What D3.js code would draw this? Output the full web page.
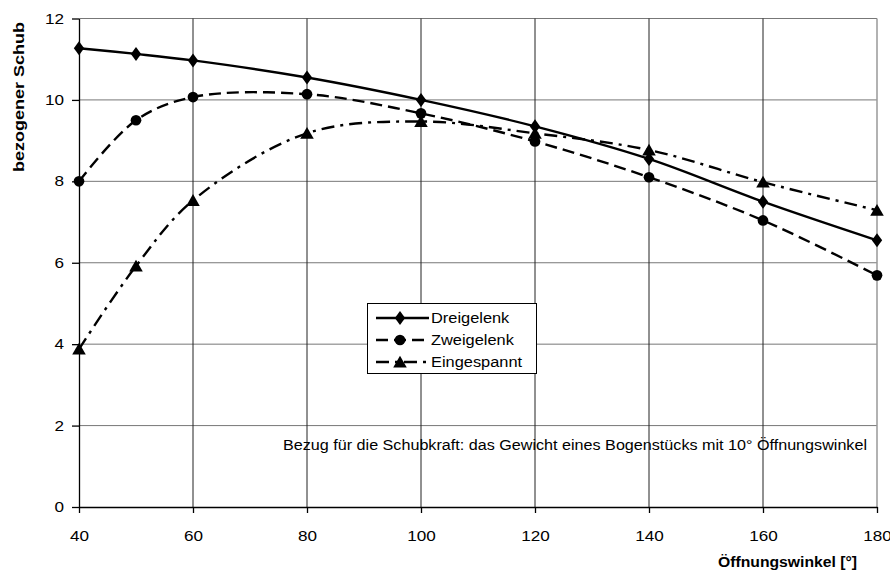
<!DOCTYPE html>
<html><head><meta charset="utf-8">
<script src="https://cdn.jsdelivr.net/npm/d3@7"></script>
<style>body{margin:0;background:#fff}text{font-family:"Liberation Sans",Arial,sans-serif}</style>
</head><body>
<svg id="c" width="890" height="580"></svg>
<script>
const angles = [40, 50, 60, 80, 100, 120, 140, 160, 180];
const dreigelenk = [11.27, 11.13, 10.97, 10.55, 10.0, 9.35, 8.55, 7.5, 6.55];
const zweigelenk = [8.0, 9.5, 10.07, 10.14, 9.67, 8.98, 8.1, 7.04, 5.69];
const eingespannt = [3.88, 5.92, 7.53, 9.18, 9.47, 9.18, 8.77, 7.98, 7.29];
const seriesNames = ["Dreigelenk", "Zweigelenk", "Eingespannt"];
const xTicks = [40, 60, 80, 100, 120, 140, 160, 180];
const yTicks = [0, 2, 4, 6, 8, 10, 12];
const yTitle = "bezogener Schub";
const xTitle = "Öffnungswinkel [°]";
const note = "Bezug für die Schubkraft: das Gewicht eines Bogenstücks mit 10° Öffnungswinkel";

const svg = d3.select("#c");
const x = d3.scaleLinear().domain([40, 180]).range([79, 877]);
const y = d3.scaleLinear().domain([0, 12]).range([507, 18.5]);

function stretch(sel, k) {
  sel.each(function () {
    const len = this.getComputedTextLength();
    d3.select(this).attr("textLength", len * k).attr("lengthAdjust", "spacingAndGlyphs");
  });
}

// gridlines
svg.append("g").selectAll("line").data(yTicks.filter(d => d > 0)).join("line")
  .attr("x1", x(40)).attr("x2", x(180)).attr("y1", d => y(d)).attr("y2", d => y(d))
  .attr("stroke", "#777").attr("stroke-width", 1);
svg.append("g").selectAll("line").data(xTicks.filter(d => d > 40 && d < 180)).join("line")
  .attr("x1", d => x(d)).attr("x2", d => x(d)).attr("y1", y(0)).attr("y2", y(12))
  .attr("stroke", "#222").attr("stroke-width", 1);
svg.append("line").attr("x1", x(180)).attr("x2", x(180)).attr("y1", y(0)).attr("y2", y(12))
  .attr("stroke", "#999").attr("stroke-width", 1.5);

// axes
const xAxis = svg.append("g").attr("transform", `translate(0,${y(0)})`)
  .call(d3.axisBottom(x).tickValues(xTicks).tickSize(6).tickPadding(18).tickSizeOuter(0));
const yAxis = svg.append("g").attr("transform", `translate(${x(40)},0)`)
  .call(d3.axisLeft(y).tickValues(yTicks).tickSize(7).tickPadding(8).tickSizeOuter(0));
[xAxis, yAxis].forEach(a => {
  a.select(".domain").attr("stroke", "#000").attr("stroke-width", 1.3);
  a.selectAll(".tick line").attr("stroke", "#000").attr("stroke-width", 1.3);
  a.selectAll("text").attr("font-size", 14.5).attr("fill", "#000")
    .style("font-family", '"Liberation Sans",Arial,sans-serif');
  stretch(a.selectAll("text"), 1.18);
});

// series
const dashes = [null, "12,6", "13,6,3,6"];
const symbols = [d3.symbolDiamond, d3.symbolCircle, d3.symbolTriangle];
const symSizes = [70, 90, 80];
const all = [dreigelenk, zweigelenk, eingespannt];
const line = d3.line().x(d => x(d[0])).y(d => y(d[1])).curve(d3.curveCatmullRom.alpha(0.5));
all.forEach((vals, i) => {
  const pts = angles.map((a, k) => [a, vals[k]]);
  svg.append("path").datum(pts).attr("d", line).attr("fill", "none")
    .attr("stroke", "#000").attr("stroke-width", 2.4)
    .attr("stroke-dasharray", dashes[i]);
  svg.append("g").selectAll("path").data(pts).join("path")
    .attr("transform", d => `translate(${x(d[0])},${y(d[1]) + (i === 2 ? 1.5 : 0)})` + (i === 0 ? " scale(1.15,0.9)" : ""))
    .attr("d", d3.symbol().type(symbols[i]).size(symSizes[i])).attr("fill", "#000");
});

// legend
const lg = svg.append("g");
lg.append("rect").attr("x", 367.5).attr("y", 303.5).attr("width", 169).attr("height", 70)
  .attr("fill", "#fff").attr("stroke", "#000").attr("stroke-width", 1);
seriesNames.forEach((n, i) => {
  const ly = 318 + i * 22;
  lg.append("line").attr("x1", 376).attr("x2", 429).attr("y1", ly).attr("y2", ly)
    .attr("stroke", "#000").attr("stroke-width", 2.4).attr("stroke-dasharray", dashes[i]);
  lg.append("path").attr("transform", `translate(400,${ly + (i === 2 ? 1.5 : 0)})` + (i === 0 ? " scale(1.15,0.9)" : ""))
    .attr("d", d3.symbol().type(symbols[i]).size(symSizes[i])).attr("fill", "#000");
  const t = lg.append("text").attr("x", 431).attr("y", ly).attr("dy", "0.35em")
    .attr("font-size", 14).text(n);
  stretch(t, 1.17);
});

// note
const nt = svg.append("text").attr("x", 867).attr("y", 445).attr("dy", "0.35em").attr("text-anchor", "end")
  .attr("font-size", 14).text(note);
nt.attr("textLength", 584).attr("lengthAdjust", "spacingAndGlyphs");

// titles
const yt = svg.append("text").attr("transform", "translate(19,97) rotate(-90)").attr("text-anchor", "middle")
  .attr("dy", "0.35em").attr("font-size", 14).attr("font-weight", "bold").text(yTitle);
yt.attr("textLength", 150).attr("lengthAdjust", "spacingAndGlyphs");
const xt = svg.append("text").attr("x", 857).attr("y", 562).attr("dy", "0.35em").attr("text-anchor", "end")
  .attr("font-size", 14).attr("font-weight", "bold").text(xTitle);
xt.attr("textLength", 139).attr("lengthAdjust", "spacingAndGlyphs");
</script>
</body></html>
